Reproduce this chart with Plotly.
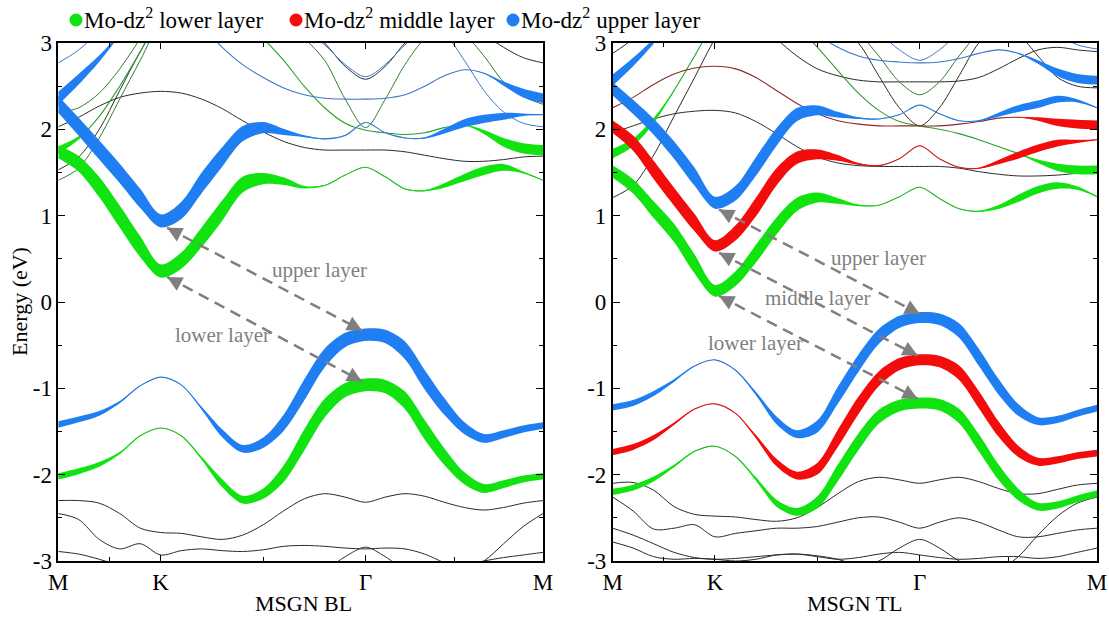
import numpy as np
import plotly.graph_objects as go

# k-path sample points (M -> K -> Gamma -> M), hexagonal path lengths
K_GRID = [0.000, 0.115, 0.231, 0.346, 0.462, 0.577, 0.693, 0.808, 0.924, 1.039,
          1.155, 1.270, 1.386, 1.501, 1.617, 1.732, 1.843, 1.954, 2.065, 2.176,
          2.288, 2.399, 2.510, 2.621, 2.732]
K_TICKS = [0.0, 0.577, 1.732, 2.732]
K_LABELS = ["M", "K", "Γ", "M"]
K_MINOR = [0.289, 1.155, 2.232]

# ---------------- MSGN BL (bilayer) ----------------
VB_UPPER_BL = [-1.42, -1.36, -1.29, -1.16, -0.97, -0.87, -0.96, -1.23, -1.52, -1.70, -1.63, -1.40, -1.02,
               -0.65, -0.44, -0.38, -0.40, -0.56, -0.90, -1.21, -1.46, -1.58, -1.53, -1.47, -1.43]
VB_LOWER_BL = [-2.02, -1.96, -1.88, -1.75, -1.55, -1.46, -1.55, -1.81, -2.10, -2.29, -2.22, -1.99, -1.60,
               -1.23, -1.02, -0.96, -0.98, -1.14, -1.48, -1.79, -2.04, -2.16, -2.11, -2.05, -2.02]
W_VB_BL = [0.5, 0.45, 0.35, 0.15, 0.05, 0.02, 0.03, 0.15, 0.45, 0.6, 0.7, 0.8, 0.9,
           0.95, 1.0, 1.0, 1.0, 0.95, 0.9, 0.85, 0.75, 0.7, 0.6, 0.55, 0.5]

CB_UPPER_BL = [2.29, 2.03, 1.76, 1.49, 1.20, 0.94, 1.06, 1.38, 1.68, 1.95, 2.02, 1.97, 1.92,
               1.89, 1.93, 2.08, 1.96, 1.90, 1.90, 1.98, 2.07, 2.12, 2.15, 2.17, 2.17]
W_CB_UPPER_BL = [0.9, 0.95, 1, 1, 1, 1, 1, 1, 1, 1, 0.9, 0.5, 0.15,
                 0.05, 0.03, 0.03, 0.03, 0.05, 0.1, 0.35, 0.6, 0.65, 0.55, 0.2, 0.05]
CB_LOWER_BL = [1.74, 1.60, 1.33, 0.99, 0.64, 0.36, 0.48, 0.75, 1.06, 1.36, 1.43, 1.40, 1.33,
               1.35, 1.47, 1.56, 1.45, 1.31, 1.29, 1.35, 1.44, 1.52, 1.56, 1.50, 1.41]
W_CB_LOWER_BL = [0.9, 0.95, 1, 1, 1, 1, 1, 1, 1, 1, 0.9, 0.6, 0.2,
                 0.05, 0.03, 0.03, 0.03, 0.05, 0.1, 0.35, 0.55, 0.65, 0.55, 0.15, 0.05]

Q_UPPER_BL = [2.36, 2.58, 2.82, 3.10, 3.40, 3.55, 3.45, 3.20, 2.95, 2.75, 2.60, 2.48, 2.40,
              2.36, 2.35, 2.35, 2.36, 2.40, 2.50, 2.62, 2.69, 2.65, 2.53, 2.42, 2.36]
W_Q_UPPER_BL = [0.75, 0.6, 0.35, 0.1, 0, 0, 0, 0, 0, 0, 0, 0, 0,
                0, 0, 0, 0, 0, 0, 0, 0, 0.05, 0.3, 0.65, 0.75]
Q_LOWER_BL = [1.76, 1.90, 2.15, 2.50, 2.90, 3.30, 3.50, 3.50, 3.40, 3.25, 3.05, 2.80, 2.50,
              2.25, 2.07, 1.99, 1.96, 1.94, 1.96, 2.02, 2.05, 1.97, 1.85, 1.78, 1.76]
W_Q_LOWER_BL = [0.5, 0.2, 0, 0, 0, 0, 0, 0, 0, 0, 0, 0, 0,
                0, 0, 0, 0, 0, 0, 0, 0.05, 0.3, 0.65, 0.8, 0.8]

THIN_BL = {
    "kpeak":  ([2.03, 2.14, 2.27, 2.37, 2.42, 2.44, 2.42, 2.35, 2.24, 2.10, 1.97, 1.86, 1.79,
                1.76, 1.76, 1.76, 1.76, 1.74, 1.70, 1.66, 1.63, 1.63, 1.65, 1.68, 1.69], "#2b2b2b"),
    "varm":   ([2.19, 2.25, 2.42, 2.70, 3.05, 3.40, 3.60, 3.60, 3.50, 3.40, 3.30, 3.20, 3.05,
                2.80, 2.35, 2.02, 2.35, 2.75, 3.05, 3.20, 3.10, 2.85, 2.55, 2.38, 2.29], "#2e7d2e"),
    "u1":     ([1.53, 1.68, 2.00, 2.45, 2.90, 3.30, 3.60, 3.70, 3.70, 3.60, 3.50, 3.35, 3.20,
                3.00, 2.73, 2.58, 2.73, 3.00, 3.20, 3.30, 3.25, 3.10, 2.95, 2.83, 2.77], "#2b2b2b"),
    "u2":     ([2.77, 2.92, 3.15, 3.45, 3.70, 3.80, 3.80, 3.70, 3.60, 3.50, 3.40, 3.30, 3.15,
                2.98, 2.75, 2.61, 2.75, 2.98, 3.15, 3.10, 2.80, 2.45, 2.20, 2.07, 2.03], "#3a78c8"),
    "steep":  ([1.41, 1.55, 1.90, 2.35, 2.80, 3.25, 3.50, 3.60, 3.60, 3.60, 3.60, 3.60, 3.60,
                3.60, 3.60, 3.60, 3.60, 3.60, 3.60, 3.60, 3.60, 3.60, 3.60, 3.60, 3.60], "#2e7d2e"),
    "low1":   ([-2.30, -2.30, -2.33, -2.45, -2.62, -2.67, -2.68, -2.72, -2.75, -2.70, -2.58, -2.42, -2.28,
                -2.22, -2.26, -2.32, -2.26, -2.22, -2.25, -2.32, -2.38, -2.41, -2.38, -2.33, -2.30], "#2b2b2b"),
    "low2":   ([-2.45, -2.52, -2.75, -2.86, -2.80, -2.93, -2.88, -2.86, -2.88, -2.89, -2.87, -2.83, -2.82,
                -2.83, -2.85, -2.86, -2.85, -2.86, -2.92, -3.02, -3.10, -3.00, -2.80, -2.60, -2.45], "#2b2b2b"),
    "low3":   ([-2.89, -2.92, -2.98, -3.05, -3.10, -3.10, -3.10, -3.10, -3.10, -3.10, -3.10, -3.10, -3.10,
                -3.10, -2.95, -2.84, -2.95, -3.10, -3.10, -3.10, -3.05, -3.00, -2.96, -2.93, -2.90], "#2b2b2b"),
}

# ---------------- MSGN TL (trilayer) ----------------
VB_UPPER_TL = [-1.22, -1.17, -1.06, -0.91, -0.74, -0.67, -0.79, -1.06, -1.37, -1.53, -1.44, -1.08, -0.71,
               -0.40, -0.23, -0.18, -0.20, -0.33, -0.64, -0.98, -1.25, -1.38, -1.36, -1.29, -1.23]
VB_MIDDLE_TL = [-1.74, -1.68, -1.57, -1.41, -1.24, -1.18, -1.29, -1.56, -1.86, -2.01, -1.93, -1.58, -1.20,
                -0.89, -0.72, -0.67, -0.69, -0.82, -1.13, -1.47, -1.73, -1.85, -1.83, -1.78, -1.75]
VB_LOWER_TL = [-2.20, -2.15, -2.05, -1.90, -1.73, -1.67, -1.79, -2.05, -2.33, -2.43, -2.32, -1.98, -1.62,
               -1.33, -1.20, -1.17, -1.19, -1.32, -1.63, -1.97, -2.23, -2.37, -2.35, -2.28, -2.22]
W_VB_TL = [0.55, 0.5, 0.4, 0.2, 0.05, 0.02, 0.03, 0.2, 0.5, 0.7, 0.8, 0.85, 0.9,
           0.95, 1, 1, 1, 0.95, 0.9, 0.85, 0.8, 0.7, 0.65, 0.6, 0.6]

CB_UPPER_TL = [2.47, 2.26, 2.03, 1.76, 1.45, 1.15, 1.26, 1.57, 1.91, 2.17, 2.22, 2.17, 2.13,
               2.12, 2.17, 2.28, 2.18, 2.10, 2.10, 2.17, 2.24, 2.29, 2.35, 2.33, 2.25]
CB_MIDDLE_TL = [2.03, 1.84, 1.53, 1.22, 0.92, 0.65, 0.80, 1.10, 1.45, 1.67, 1.71, 1.67, 1.60,
                1.58, 1.66, 1.81, 1.66, 1.56, 1.55, 1.62, 1.70, 1.78, 1.84, 1.86, 1.88]
CB_LOWER_TL = [1.51, 1.34, 1.07, 0.80, 0.44, 0.13, 0.27, 0.56, 0.88, 1.13, 1.21, 1.17, 1.12,
               1.12, 1.22, 1.33, 1.20, 1.08, 1.05, 1.10, 1.20, 1.30, 1.35, 1.32, 1.22]
W_CB_TL = [0.9, 0.95, 1, 1, 1, 1, 1, 1, 1, 1, 0.9, 0.5, 0.15,
           0.05, 0.03, 0.03, 0.03, 0.05, 0.1, 0.35, 0.6, 0.65, 0.6, 0.3, 0.05]

Q_UPPER_TL = [2.57, 2.78, 3.02, 3.30, 3.55, 3.70, 3.70, 3.60, 3.50, 3.30, 3.10, 2.95, 2.85,
              2.80, 2.78, 2.77, 2.78, 2.82, 2.88, 2.92, 2.88, 2.78, 2.66, 2.59, 2.57]
Q_MIDDLE_TL = [2.25, 2.37, 2.52, 2.64, 2.71, 2.73, 2.70, 2.60, 2.45, 2.30, 2.18, 2.10, 2.06,
               2.04, 2.04, 2.04, 2.04, 2.06, 2.09, 2.13, 2.14, 2.12, 2.08, 2.06, 2.05]
Q_LOWER_TL = [1.72, 1.85, 2.10, 2.45, 2.85, 3.25, 3.50, 3.50, 3.40, 3.20, 2.95, 2.68, 2.42,
              2.22, 2.09, 2.04, 2.00, 1.95, 1.88, 1.80, 1.72, 1.63, 1.56, 1.53, 1.53]
W_Q_TL = [0.75, 0.55, 0.3, 0.05, 0, 0, 0, 0, 0, 0, 0, 0, 0,
          0, 0, 0, 0, 0, 0, 0, 0.05, 0.3, 0.65, 0.8, 0.8]
W_Q_MID_TL = [0.05, 0, 0, 0, 0, 0, 0, 0, 0, 0, 0, 0, 0,
              0, 0, 0, 0, 0, 0, 0, 0.05, 0.3, 0.65, 0.8, 0.8]

THIN_TL = {
    "kpeak2": ([1.96, 2.04, 2.12, 2.18, 2.21, 2.22, 2.19, 2.09, 1.95, 1.80, 1.68, 1.61, 1.58,
                1.57, 1.57, 1.57, 1.57, 1.55, 1.51, 1.48, 1.46, 1.46, 1.47, 1.49, 1.49], "#2b2b2b"),
    "varm":   ([1.21, 1.35, 1.70, 2.15, 2.60, 3.05, 3.40, 3.60, 3.60, 3.50, 3.35, 3.20, 3.00,
                2.62, 2.25, 2.04, 2.25, 2.62, 3.00, 3.20, 3.10, 2.85, 2.60, 2.50, 2.48], "#2b2b2b"),
    "flat":   ([2.88, 3.05, 3.30, 3.50, 3.60, 3.60, 3.50, 3.30, 3.05, 2.85, 2.70, 2.62, 2.57,
                2.55, 2.55, 2.55, 2.55, 2.56, 2.60, 2.70, 2.82, 2.92, 2.95, 2.92, 2.90], "#2b2b2b"),
    "u2":     ([3.60, 3.60, 3.60, 3.60, 3.60, 3.60, 3.60, 3.60, 3.60, 3.60, 3.50, 3.35, 3.25,
                3.12, 2.92, 2.80, 2.92, 3.12, 3.25, 3.35, 3.40, 3.30, 3.10, 2.98, 2.93], "#3a78c8"),
    "u3":     ([3.60, 3.60, 3.60, 3.60, 3.60, 3.60, 3.60, 3.60, 3.60, 3.50, 3.40, 3.30, 3.12,
                2.85, 2.55, 2.40, 2.55, 2.85, 3.12, 3.30, 3.40, 3.50, 3.60, 3.60, 3.60], "#2e7d2e"),
    "low1":   ([-2.10, -2.09, -2.18, -2.37, -2.46, -2.48, -2.49, -2.52, -2.54, -2.50, -2.38, -2.22, -2.08,
                -2.03, -2.06, -2.10, -2.06, -2.03, -2.08, -2.16, -2.22, -2.22, -2.17, -2.12, -2.10], "#2b2b2b"),
    "low2":   ([-2.26, -2.42, -2.63, -2.62, -2.58, -2.72, -2.68, -2.65, -2.62, -2.62, -2.60, -2.55, -2.50,
                -2.49, -2.55, -2.62, -2.55, -2.50, -2.55, -2.64, -2.72, -2.72, -2.68, -2.64, -2.62], "#2b2b2b"),
    "low3":   ([-2.62, -2.70, -2.80, -2.90, -2.96, -2.98, -2.97, -2.95, -2.93, -2.92, -2.94, -2.98, -3.05,
                -3.00, -2.85, -2.75, -2.85, -3.00, -3.10, -3.10, -2.95, -2.70, -2.48, -2.33, -2.26], "#2b2b2b"),
    "low4":   ([-2.78, -2.85, -2.95, -2.98, -2.97, -2.98, -3.00, -2.98, -2.93, -2.92, -2.95, -2.98, -2.96,
                -2.92, -2.90, -2.93, -2.96, -2.98, -2.97, -2.95, -2.95, -2.97, -2.95, -2.90, -2.85], "#2b2b2b"),
}

GREEN = "#10e310"
RED = "#f20c0c"
BLUE = "#1f7ff2"
GRAY = "#7f7f7f"

PX_PER_EV = 86.3
PX_PER_K = 177.4
SERIF = "Liberation Serif"

fig = go.Figure()


def thin(xa, ya, E, color, width=1.0):
    fig.add_trace(go.Scatter(x=K_GRID, y=E, mode="lines", xaxis=xa, yaxis=ya,
                             line=dict(color=color, width=width, shape="spline", smoothing=0.9),
                             hoverinfo="skip", showlegend=False))


def fat(xa, ya, E, W, color, tmax, linecolor=None):
    k = np.array(K_GRID, float)
    e = np.array(E, float)
    w = np.array(W, float)
    s = np.gradient(e, k) * PX_PER_EV / PX_PER_K
    h = 0.5 * w * tmax / PX_PER_EV * np.minimum(np.sqrt(1 + s ** 2), 2.5)
    # thin band line first, so the projection fill sits on top of it
    thin(xa, ya, E, linecolor or color, 1.1)
    fig.add_trace(go.Scatter(x=k, y=e - h, mode="lines", xaxis=xa, yaxis=ya,
                             line=dict(width=0, shape="spline", smoothing=0.9, color=color),
                             hoverinfo="skip", showlegend=False))
    fig.add_trace(go.Scatter(x=k, y=e + h, mode="lines", xaxis=xa, yaxis=ya, fill="tonexty",
                             fillcolor=color,
                             line=dict(width=0, shape="spline", smoothing=0.9, color=color),
                             hoverinfo="skip", showlegend=False))


# --- left panel ---
for name, (E, c) in THIN_BL.items():
    thin("x", "y", E, c)
for E, W, c, lc in [(Q_LOWER_BL, W_Q_LOWER_BL, GREEN, "#2e9e2e"), (Q_UPPER_BL, W_Q_UPPER_BL, BLUE, "#3a78c8"),
                    (CB_LOWER_BL, W_CB_LOWER_BL, GREEN, "#2ea82e"), (CB_UPPER_BL, W_CB_UPPER_BL, BLUE, "#3a78c8"),
                    (VB_LOWER_BL, W_VB_BL, GREEN, "#2ea82e"), (VB_UPPER_BL, W_VB_BL, BLUE, "#3a78c8")]:
    fat("x", "y", E, W, c, 12.5, lc)

# --- right panel ---
for name, (E, c) in THIN_TL.items():
    thin("x2", "y2", E, c)
for E, W, c, lc in [(Q_LOWER_TL, W_Q_TL, GREEN, "#2e9e2e"), (Q_MIDDLE_TL, W_Q_MID_TL, RED, "#8a2a2a"),
                    (Q_UPPER_TL, W_Q_TL, BLUE, "#3a78c8"),
                    (CB_LOWER_TL, W_CB_TL, GREEN, "#2ea82e"), (CB_MIDDLE_TL, W_CB_TL, RED, "#c02020"),
                    (CB_UPPER_TL, W_CB_TL, BLUE, "#3a78c8"),
                    (VB_LOWER_TL, W_VB_TL, GREEN, "#2ea82e"), (VB_MIDDLE_TL, W_VB_TL, RED, "#c02020"),
                    (VB_UPPER_TL, W_VB_TL, BLUE, "#3a78c8")]:
    fat("x2", "y2", E, W, c, 11, lc)

# --- dashed transition arrows ---
ARROWS = [("x", "y", (0.613, 0.86), (1.712, -0.33)),
          ("x", "y", (0.613, 0.29), (1.712, -0.92)),
          ("x2", "y2", (0.600, 1.07), (1.733, -0.14)),
          ("x2", "y2", (0.600, 0.57), (1.720, -0.62)),
          ("x2", "y2", (0.600, 0.07), (1.720, -1.12))]
shapes = []
annotations = []
for xa, ya, p1, p2 in ARROWS:
    shapes.append(dict(type="line", xref=xa, yref=ya, x0=p1[0], y0=p1[1], x1=p2[0], y1=p2[1],
                       line=dict(color=GRAY, width=2.5, dash="11px,7px")))
    for a, b in [(p1, p2), (p2, p1)]:
        annotations.append(dict(xref=xa, yref=ya, axref=xa, ayref=ya, x=a[0], y=a[1],
                                ax=a[0] + 0.07 * (b[0] - a[0]), ay=a[1] + 0.07 * (b[1] - a[1]),
                                text="", showarrow=True, arrowhead=2, arrowsize=1.2,
                                arrowwidth=2.5, arrowcolor=GRAY, standoff=0))

LABELS = [("x", "y", 1.475, 0.37, "upper layer"),
          ("x", "y", 0.923, -0.38, "lower layer"),
          ("x2", "y2", 1.497, 0.51, "upper layer"),
          ("x2", "y2", 1.158, 0.05, "middle layer"),
          ("x2", "y2", 0.808, -0.48, "lower layer")]
for xa, ya, xx, yy, t in LABELS:
    annotations.append(dict(xref=xa, yref=ya, x=xx, y=yy, text=t, showarrow=False,
                            xanchor="center", yanchor="middle",
                            font=dict(family=SERIF, size=21, color=GRAY)))

# legend (custom)
LEGEND = [(76, "Mo-dz<sup>2</sup> lower layer", GREEN),
          (296, "Mo-dz<sup>2</sup> middle layer", RED),
          (513, "Mo-dz<sup>2</sup> upper layer", BLUE)]
W_FIG, H_FIG = 1109, 617
for px, t, c in LEGEND:
    shapes.append(dict(type="circle", xref="paper", yref="paper", xsizemode="pixel", ysizemode="pixel",
                       xanchor=px / W_FIG, yanchor=1 - 20 / H_FIG, x0=-6.5, x1=6.5, y0=-6.5, y1=6.5,
                       fillcolor=c, line=dict(width=0)))
    annotations.append(dict(xref="paper", yref="paper", x=(px + 6) / W_FIG, y=1 - 18 / H_FIG,
                            xanchor="left", yanchor="middle", text=t, showarrow=False,
                            font=dict(family=SERIF, size=23, color="black")))

annotations.append(dict(xref="paper", yref="paper", x=303 / W_FIG, y=1 - 603 / H_FIG, text="MSGN BL",
                        xanchor="center", yanchor="middle",
                        showarrow=False, font=dict(family=SERIF, size=22, color="black")))
annotations.append(dict(xref="paper", yref="paper", x=855 / W_FIG, y=1 - 603 / H_FIG, text="MSGN TL",
                        xanchor="center", yanchor="middle",
                        showarrow=False, font=dict(family=SERIF, size=22, color="black")))
annotations.append(dict(xref="paper", yref="paper", x=19 / W_FIG, y=1 - 302 / H_FIG, text="Energy (eV)",
                        xanchor="center", yanchor="middle",
                        textangle=-90, showarrow=False, font=dict(family=SERIF, size=22, color="black")))

xcommon = dict(range=[0, 2.732], tickmode="array", tickvals=K_TICKS, ticktext=K_LABELS,
               ticks="inside", ticklen=6, tickwidth=1.2, tickcolor="black",
               minor=dict(tickmode="array", tickvals=K_MINOR, ticks="inside", ticklen=4, tickcolor="black"),
               showline=True, linecolor="black", linewidth=1.6, mirror="ticks", automargin=False,
               showgrid=False, zeroline=False, tickfont=dict(family=SERIF, size=23, color="black"))
ycommon = dict(range=[-3, 3], tickmode="array", tickvals=[-3, -2, -1, 0, 1, 2, 3],
               ticktext=["-3", "-2", "-1", "0", "1", "2", "3"],
               ticks="inside", ticklen=7, tickwidth=1.2, tickcolor="black",
               minor=dict(tickmode="array", tickvals=[-2.5, -1.5, -0.5, 0.5, 1.5, 2.5],
                          ticks="inside", ticklen=4, tickcolor="black"),
               showline=True, linecolor="black", linewidth=1.6, mirror="ticks", automargin=False,
               showgrid=False, zeroline=False, tickfont=dict(family=SERIF, size=23, color="black"))

fig.update_layout(
    width=W_FIG, height=H_FIG, autosize=False,
    margin=dict(l=0, r=0, t=0, b=0, pad=0),
    paper_bgcolor="white", plot_bgcolor="white",
    showlegend=False,
    xaxis=dict(domain=[58.3 / W_FIG, 543 / W_FIG], anchor="y", **xcommon),
    yaxis=dict(domain=[1 - 561 / H_FIG, 1 - 43 / H_FIG], anchor="x", **ycommon),
    xaxis2=dict(domain=[612.7 / W_FIG, 1097 / W_FIG], anchor="y2", **xcommon),
    yaxis2=dict(domain=[1 - 561 / H_FIG, 1 - 43 / H_FIG], anchor="x2", **ycommon),
    shapes=shapes,
    annotations=annotations,
)

POST = ("document.body.style.margin='0';document.body.style.padding='0';"
        "document.body.style.overflow='hidden';"
        "var gd=document.getElementById('{plot_id}');"
        "Plotly.relayout(gd,{width:1109,height:617});")
fig.write_html("out.html", config={"displayModeBar": False, "responsive": False}, post_script=POST)
